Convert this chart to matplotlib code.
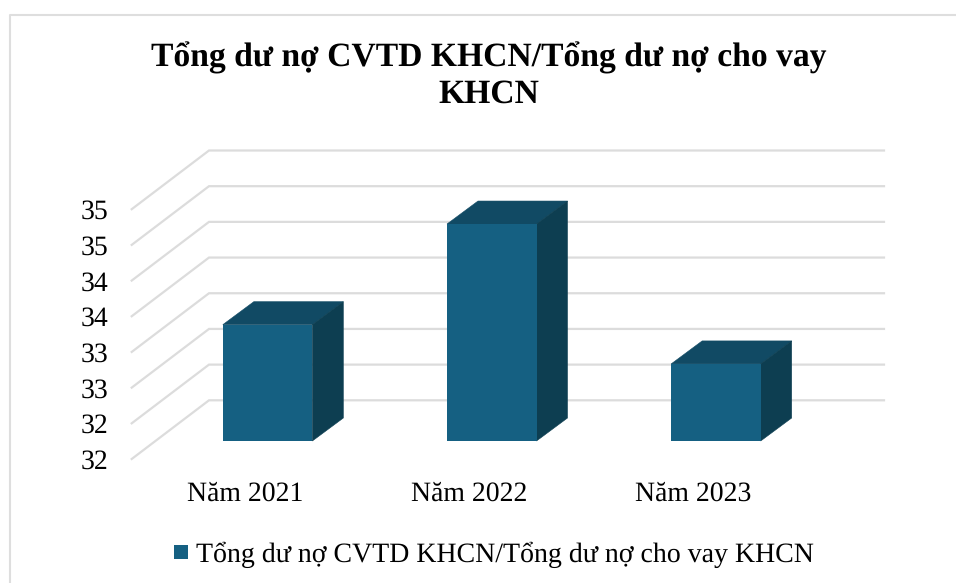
import matplotlib
matplotlib.use('Agg')
import matplotlib.pyplot as plt
from matplotlib.patches import Polygon, Rectangle

plt.rcParams['font.family'] = ['Liberation Serif', 'DejaVu Serif']
plt.rcParams['text.hinting'] = 'no_hinting'

title = 'Tổng dư nợ CVTD KHCN/Tổng dư nợ cho vay\nKHCN'
series_name = 'Tổng dư nợ CVTD KHCN/Tổng dư nợ cho vay KHCN'
years = ['Năm 2021', 'Năm 2022', 'Năm 2023']
values = [33.63, 35.04, 33.08]
levels = [32, 32.5, 33, 33.5, 34, 34.5, 35, 35.5]
# labels were rounded in the original chart, so they repeat
level_labels = ['32', '32', '33', '33', '34', '34', '35', '35']

W, H = 956, 583
fig = plt.figure(figsize=(W / 100, H / 100), dpi=100)

# axes is the plane of the bars' front faces, the fake 3d goes out from it
left, right, bottom, top = 155.5, 828, 441, 191.2
ax = fig.add_axes([left / W, 1 - bottom / H, (right - left) / W, (bottom - top) / H])
ax.set_xlim(-0.5, 2.5)
ax.set_ylim(32, 35.5)
ax.axis('off')

px_x = (right - left) / 3
px_y = (bottom - top) / 3.5

grid_color = '#dcdcdc'
back_dx, back_dy = 53.5 / px_x, 40.7 / px_y
front_dx, front_dy = -23.8 / px_x, -18 / px_y
grid_extra = 2.5 / px_x

for lv, lab in zip(levels, level_labels):
    ax.plot([-0.5 + front_dx, -0.5 + back_dx, 2.5 + back_dx + grid_extra],
            [lv + front_dy, lv + back_dy, lv + back_dy],
            color=grid_color, lw=1.6, clip_on=False, zorder=1,
            solid_joinstyle='miter')
    ax.annotate(lab, (-0.5 + front_dx, lv + front_dy), xytext=(-23, 0),
                textcoords='offset pixels', ha='right', va='center_baseline',
                fontsize=20, color='#000000', annotation_clip=False)

half = 44.75 / px_x
depth_x, depth_y = 31 / px_x, 23 / px_y
for i, v in enumerate(values):
    x0, x1 = i - half, i + half
    ax.add_patch(Polygon([(x0, v), (x0 + depth_x, v + depth_y), (x1 + depth_x, v + depth_y), (x1, v)],
                         closed=True, fc='#114a64', ec='#114a64', lw=0.4, zorder=3, clip_on=False))
    ax.add_patch(Polygon([(x1, 32), (x1 + depth_x, 32 + depth_y), (x1 + depth_x, v + depth_y), (x1, v)],
                         closed=True, fc='#0d3e51', ec='#0d3e51', lw=0.4, zorder=3, clip_on=False))
    ax.add_patch(Rectangle((x0, 32), x1 - x0, v - 32, fc='#156082', ec='none', zorder=4, clip_on=False))
    ax.annotate(years[i], (i + front_dx, 32 + front_dy), xytext=(1, -32),
                textcoords='offset pixels', ha='center', va='center_baseline',
                fontsize=20, annotation_clip=False)

fig.text(489 / W, 1 - 76 / H, title, ha='center', va='center', fontsize=24.2,
         fontweight='bold', linespacing=1.19)

fig.patches.append(Rectangle((174 / W, 1 - 559 / H), 14 / W, 14 / H, transform=fig.transFigure,
                             fc='#156082', ec='none'))
fig.text(196 / W, 1 - 552 / H, series_name, ha='left', va='center_baseline', fontsize=20.08)

# chart frame, cut off by the screenshot on the right and bottom
fig.add_artist(plt.Line2D([9.5 / W, 9.5 / W, 1],
                          [0, 1 - 15 / H, 1 - 15 / H], color='#dedede', lw=1.5,
                          transform=fig.transFigure))

fig.savefig('out.png', dpi=100)
